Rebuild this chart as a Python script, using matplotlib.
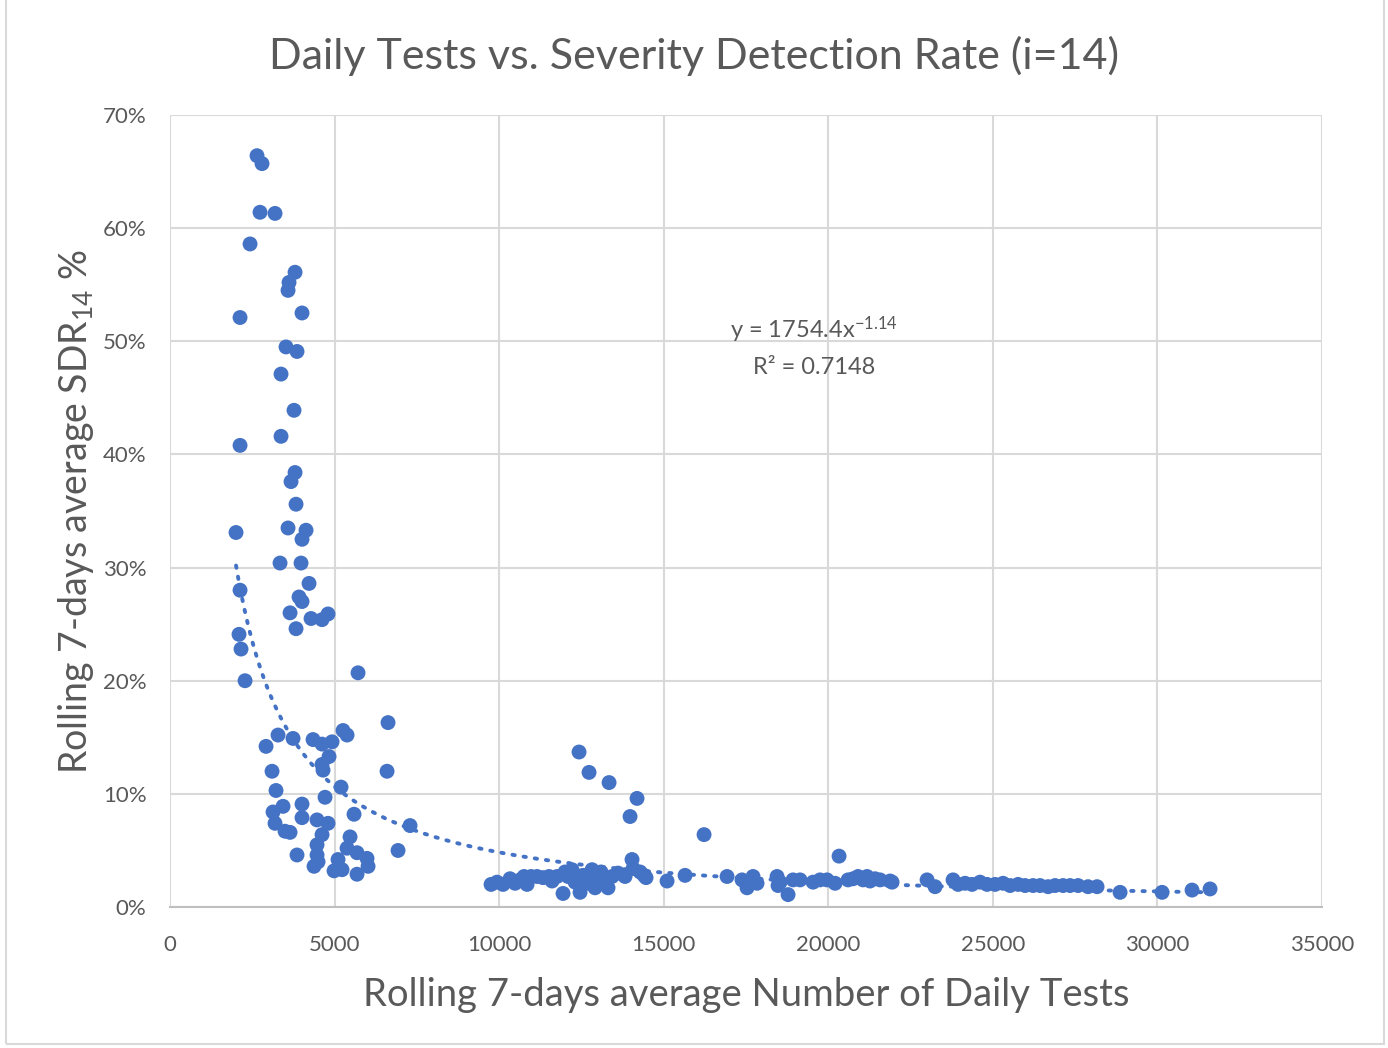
import numpy as np
import matplotlib
matplotlib.use("Agg")
import matplotlib.pyplot as plt
from matplotlib.ticker import FuncFormatter, MultipleLocator
from matplotlib.patches import Rectangle

plt.rcParams['font.family'] = ['Lato', 'DejaVu Sans']
plt.rcParams['mathtext.fontset'] = 'custom'
plt.rcParams['mathtext.rm'] = 'Lato'
plt.rcParams['mathtext.it'] = 'Lato'

# rolling 7-day average of daily tests
tests = [
    2643, 2795, 2734, 3190, 2431, 3798, 3615, 3585, 4010, 2127,
    3524, 3858, 3372, 3767, 3372, 2127, 3798, 3676, 3828, 2005,
    3585, 4132, 4010, 3342, 3980, 4223, 2127, 3919, 4010, 3646,
    4284, 4618, 4800, 3828, 2096, 2157, 2279, 5712, 6623, 2917,
    3281, 3737, 4345, 4618, 4922, 5256, 5378, 4831, 4618, 4648,
    3099, 6593, 3220, 5195, 4709, 3433, 4010, 3129, 3190, 7292,
    4466, 4800, 4010, 3494, 3646, 4618, 5590, 6927, 3858, 4466,
    4466, 4375, 4497, 5469, 5378, 5681, 5985, 6016, 5681, 4983,
    5226, 5104,
    12426, 12730, 13338, 14188, 13976, 16224, 20326, 14036,
    9753, 9935, 10117, 10330, 10482, 10634, 10755, 10847, 10968, 11150,
    11332, 11515, 11606, 11758, 11940, 12001, 12092, 12213, 12305, 12457,
    12548, 12700, 12821, 12912, 12973, 13094, 13216, 13307, 13429, 13611,
    13824, 14067, 14280, 14401, 14462, 15100, 15647, 16923, 17379, 17530,
    17713, 17834, 18442, 18472, 18533, 18776, 18928, 19141, 19536, 19748,
    19961, 20204, 20599, 20751, 20903, 21055, 21176, 21267, 21419, 21571,
    21875, 21936, 23000, 23242, 23789, 23941, 24154, 24366, 24609, 24822,
    25065, 25308, 25521, 25764, 25977, 26220, 26432, 26675, 26888, 27131,
    27344, 27587, 27890, 28164, 28863, 30139, 31050, 31597,
]

# rolling 7-day average SDR_14 (%)
sdr = [
    66.4, 65.7, 61.4, 61.3, 58.6, 56.1, 55.2, 54.5, 52.5, 52.1,
    49.5, 49.1, 47.1, 43.9, 41.6, 40.8, 38.4, 37.6, 35.6, 33.1,
    33.5, 33.3, 32.5, 30.4, 30.4, 28.6, 28.0, 27.4, 27.0, 26.0,
    25.5, 25.4, 25.9, 24.6, 24.1, 22.8, 20.0, 20.7, 16.3, 14.2,
    15.2, 14.9, 14.8, 14.4, 14.6, 15.6, 15.2, 13.3, 12.6, 12.1,
    12.0, 12.0, 10.3, 10.6, 9.7, 8.9, 9.1, 8.4, 7.4, 7.2,
    7.7, 7.4, 7.9, 6.7, 6.6, 6.4, 8.2, 5.0, 4.6, 5.5,
    4.6, 3.6, 4.0, 6.2, 5.2, 4.8, 4.3, 3.6, 2.9, 3.2,
    3.3, 4.2,
    13.7, 11.9, 11.0, 9.6, 8.0, 6.4, 4.5, 4.2,
    2.0, 2.2, 2.0, 2.5, 2.1, 2.4, 2.7, 2.0, 2.7, 2.7,
    2.6, 2.7, 2.3, 2.7, 1.2, 3.1, 2.7, 3.3, 2.2, 1.3,
    2.8, 2.1, 3.3, 1.7, 2.7, 3.1, 2.4, 1.7, 2.7, 3.0,
    2.7, 3.4, 3.1, 2.8, 2.6, 2.3, 2.8, 2.7, 2.4, 1.7,
    2.7, 2.1, 2.7, 1.9, 2.2, 1.1, 2.4, 2.4, 2.2, 2.4,
    2.4, 2.1, 2.4, 2.5, 2.7, 2.4, 2.7, 2.3, 2.5, 2.4,
    2.3, 2.2, 2.4, 1.8, 2.4, 2.0, 2.1, 2.0, 2.2, 2.0,
    2.0, 2.1, 1.9, 2.0, 1.9, 1.9, 1.9, 1.8, 1.9, 1.9,
    1.9, 1.9, 1.8, 1.8, 1.3, 1.3, 1.5, 1.6,
]

# power trendline shown on the chart: y = 1754.4 x^-1.14
fit_a = 1754.4
fit_b = -1.14
fit_r2 = 0.7148

x = np.array(tests, dtype=float)
y = np.array(sdr) / 100.0

blue = '#4472C4'
grey_txt = '#595959'

fig = plt.figure(figsize=(13.88, 10.48), dpi=100)
ax = fig.add_axes([0.1225, 0.1345, 0.8300, 0.7558])

ax.scatter(x, y, s=115, color=blue, edgecolors='none', zorder=3)

xt = np.linspace(x.min(), x.max(), 400)
ax.plot(xt, fit_a * xt ** fit_b, color=blue, linestyle=(0, (0.6, 2.3)),
        linewidth=2.8, dash_capstyle='round', zorder=4)

ax.set_xlim(0, 35000)
ax.set_ylim(0, 0.7)
ax.xaxis.set_major_locator(MultipleLocator(5000))
ax.yaxis.set_major_locator(MultipleLocator(0.1))
ax.yaxis.set_major_formatter(FuncFormatter(lambda v, p: f"{v*100:.0f}%"))
ax.grid(True, color='#D9D9D9', linewidth=1.5, zorder=0)
ax.set_axisbelow(True)
for side in ['top', 'right', 'left']:
    ax.spines[side].set_visible(False)
ax.spines['bottom'].set_color('#BFBFBF')
ax.spines['bottom'].set_linewidth(1.5)
ax.tick_params(length=0, labelsize=16, labelcolor=grey_txt)
ax.tick_params(axis='x', pad=20)
ax.tick_params(axis='y', pad=17)

fig.text(0.5, 0.947, 'Daily Tests vs. Severity Detection Rate (i=14)', fontsize=31,
         color=grey_txt, ha='center', va='center')
ax.set_xlabel('Rolling 7-days average Number of Daily Tests', fontsize=27.5,
              color=grey_txt, labelpad=16)
ax.set_ylabel(r'Rolling 7-days average SDR$_{14}$ %', fontsize=27,
              color=grey_txt, labelpad=5)

ax.text(19560, 0.510, f'y = {fit_a}x$^{{{fit_b}}}$', fontsize=17,
        color=grey_txt, ha='center', va='center')
ax.text(19560, 0.477, f'R² = {fit_r2}', fontsize=17,
        color=grey_txt, ha='center', va='center')

fig.patches.append(Rectangle((0.004, 0.004), 0.993, 1.2, transform=fig.transFigure,
                             fill=False, edgecolor='#D9D9D9', linewidth=1.5))

fig.savefig('out.png', dpi=100)
